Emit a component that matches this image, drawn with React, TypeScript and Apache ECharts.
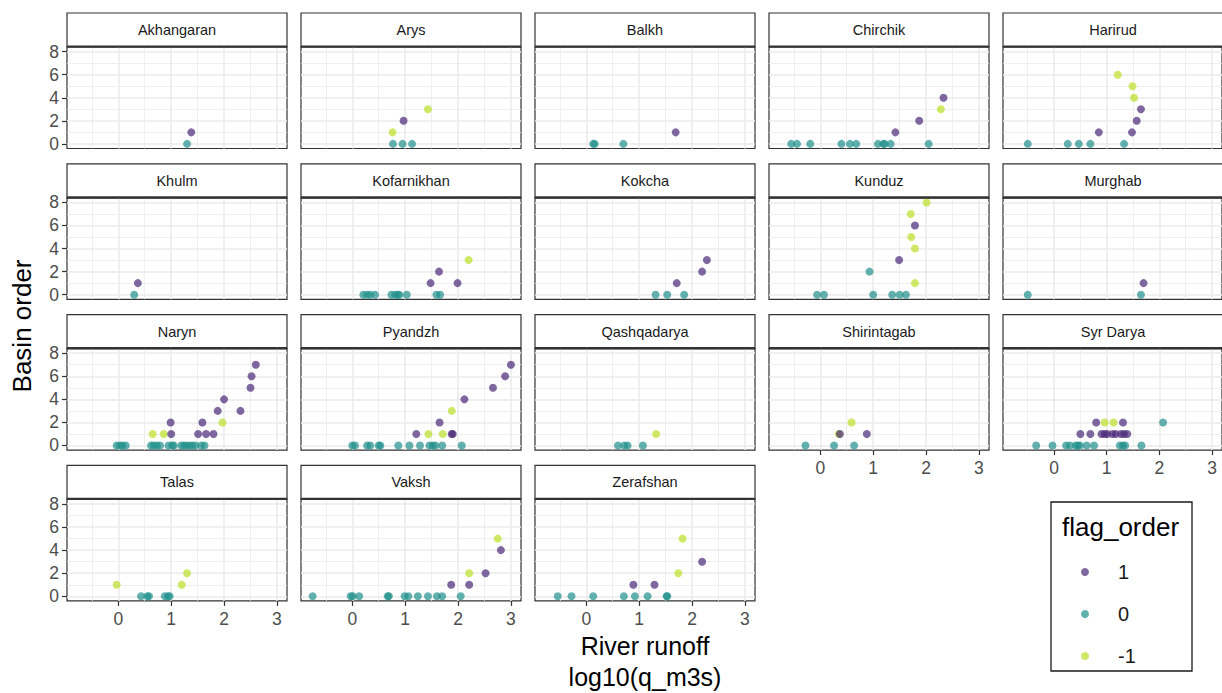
import React, { useEffect, useRef } from "react";
import * as echarts from "echarts";

// ---------- data: [log10(q_m3s), basin order, flag_order] ----------
const basins = [
  "Akhangaran", "Arys", "Balkh", "Chirchik", "Harirud",
  "Khulm", "Kofarnikhan", "Kokcha", "Kunduz", "Murghab",
  "Naryn", "Pyandzh", "Qashqadarya", "Shirintagab", "Syr Darya",
  "Talas", "Vaksh", "Zerafshan",
];

const akhangaran = [[1.38, 1, 1], [1.30, 0, 0]];
const arys = [[0.76, 1, -1], [0.97, 2, 1], [1.43, 3, -1], [0.77, 0, 0], [0.95, 0, 0], [1.13, 0, 0]];
const balkh = [[0.13, 0, 0], [0.16, 0, 0], [0.70, 0, 0], [1.69, 1, 1]];
const chirchik = [
  [-0.55, 0, 0], [-0.44, 0, 0], [-0.19, 0, 0], [0.40, 0, 0], [0.56, 0, 0], [0.68, 0, 0],
  [1.09, 0, 0], [1.19, 0, 0], [1.22, 0, 0], [1.33, 0, 0], [2.05, 0, 0],
  [1.42, 1, 1], [1.87, 2, 1], [2.33, 4, 1], [2.28, 3, -1],
];
const harirud = [
  [-0.50, 0, 0], [0.26, 0, 0], [0.47, 0, 0], [0.69, 0, 0], [1.33, 0, 0],
  [0.85, 1, 1], [1.48, 1, 1], [1.57, 2, 1], [1.65, 3, 1],
  [1.52, 4, -1], [1.49, 5, -1], [1.21, 6, -1],
];
const khulm = [[0.30, 0, 0], [0.37, 1, 1]];
const kofarnikhan = [
  [0.21, 0, 0], [0.28, 0, 0], [0.34, 0, 0], [0.43, 0, 0], [0.74, 0, 0], [0.81, 0, 0],
  [0.86, 0, 0], [0.89, 0, 0], [1.03, 0, 0], [1.59, 0, 0], [1.66, 0, 0],
  [1.48, 1, 1], [1.64, 2, 1], [1.99, 1, 1], [2.20, 3, -1],
];
const kokcha = [[1.31, 0, 0], [1.53, 0, 0], [1.85, 0, 0], [1.71, 1, 1], [2.19, 2, 1], [2.28, 3, 1]];
const kunduz = [
  [-0.06, 0, 0], [0.07, 0, 0], [1.0, 0, 0], [1.36, 0, 0], [1.50, 0, 0], [1.62, 0, 0], [0.93, 2, 0],
  [1.49, 3, 1], [1.79, 6, 1],
  [1.79, 1, -1], [1.79, 4, -1], [1.72, 5, -1], [1.71, 7, -1], [2.01, 8, -1],
];
const murghab = [[-0.50, 0, 0], [1.65, 0, 0], [1.70, 1, 1]];
const naryn = [
  [-0.03, 0, 0], [0.03, 0, 0], [0.08, 0, 0], [0.14, 0, 0], [0.62, 0, 0], [0.67, 0, 0],
  [0.73, 0, 0], [0.79, 0, 0], [0.95, 0, 0], [1.02, 0, 0], [1.05, 0, 0], [1.19, 0, 0],
  [1.24, 0, 0], [1.29, 0, 0], [1.35, 0, 0], [1.40, 0, 0], [1.46, 0, 0], [1.57, 0, 0], [1.63, 0, 0],
  [0.65, 1, -1], [0.86, 1, -1], [1.97, 2, -1],
  [1.0, 1, 1], [1.51, 1, 1], [1.66, 1, 1], [1.80, 1, 1], [0.99, 2, 1], [1.59, 2, 1],
  [1.88, 3, 1], [2.31, 3, 1], [2.0, 4, 1], [2.50, 5, 1], [2.52, 6, 1], [2.60, 7, 1],
];
const pyandzh = [
  [0.0, 0, 0], [0.05, 0, 0], [0.28, 0, 0], [0.34, 0, 0], [0.50, 0, 0], [0.53, 0, 0], [0.87, 0, 0],
  [1.08, 0, 0], [1.28, 0, 0], [1.46, 0, 0], [1.52, 0, 0], [1.57, 0, 0], [1.70, 0, 0], [2.07, 0, 0],
  [1.21, 1, 1], [1.88, 1, 1], [1.90, 1, 1], [1.65, 2, 1], [2.12, 4, 1], [2.66, 5, 1], [2.89, 6, 1], [3.0, 7, 1],
  [1.44, 1, -1], [1.71, 1, -1], [1.88, 3, -1],
];
const qashqadarya = [[0.60, 0, 0], [0.72, 0, 0], [0.78, 0, 0], [1.07, 0, 0], [1.32, 1, -1]];
const shirintagab = [[-0.28, 0, 0], [0.26, 0, 0], [0.64, 0, 0], [0.35, 1, -1], [0.59, 2, -1], [0.37, 1, 1], [0.88, 1, 1]];
const syrDarya = [
  [-0.34, 0, 0], [-0.03, 0, 0], [0.23, 0, 0], [0.30, 0, 0], [0.41, 0, 0], [0.45, 0, 0], [0.49, 0, 0],
  [0.62, 0, 0], [0.76, 0, 0], [1.25, 0, 0], [1.31, 0, 0], [1.35, 0, 0], [1.66, 0, 0], [2.07, 2, 0],
  [0.50, 1, 1], [0.69, 1, 1], [0.90, 1, 1], [0.96, 1, 1], [1.01, 1, 1], [1.11, 1, 1], [1.17, 1, 1],
  [1.27, 1, 1], [1.33, 1, 1], [1.39, 1, 1], [0.80, 2, 1], [1.31, 2, 1],
  [0.96, 2, -1], [1.13, 2, -1],
];
const talas = [
  [-0.03, 1, -1], [1.20, 1, -1], [1.30, 2, -1],
  [0.43, 0, 0], [0.55, 0, 0], [0.58, 0, 0], [0.88, 0, 0], [0.94, 0, 0], [0.97, 0, 0],
];
const vaksh = [
  [-0.75, 0, 0], [-0.03, 0, 0], [0.01, 0, 0], [0.13, 0, 0], [0.67, 0, 0], [0.69, 0, 0], [0.99, 0, 0],
  [1.06, 0, 0], [1.24, 0, 0], [1.43, 0, 0], [1.60, 0, 0], [1.70, 0, 0], [2.05, 0, 0],
  [1.87, 1, 1], [2.21, 1, 1], [2.52, 2, 1], [2.81, 4, 1],
  [2.21, 2, -1], [2.75, 5, -1],
];
const zerafshan = [
  [-0.54, 0, 0], [-0.28, 0, 0], [0.13, 0, 0], [0.71, 0, 0], [0.92, 0, 0], [1.16, 0, 0], [1.52, 0, 0], [1.53, 0, 0],
  [0.89, 1, 1], [1.29, 1, 1], [2.19, 3, 1],
  [1.74, 2, -1], [1.82, 5, -1],
];

const basinPoints = [
  akhangaran, arys, balkh, chirchik, harirud,
  khulm, kofarnikhan, kokcha, kunduz, murghab,
  naryn, pyandzh, qashqadarya, shirintagab, syrDarya,
  talas, vaksh, zerafshan,
];

const flagLevels = [1, 0, -1];
const flagNames = ["1", "0", "-1"];
const flagColors = ["#482878", "#21908C", "#BBDF27"];
const drawOrder = [1, 2, 0]; // teal, yellow, purple on top
const xTicks = [0, 1, 2, 3];
const yTicks = [0, 2, 4, 6, 8];
const xRange = [-0.97, 3.19];
const yRange = [-0.4, 8.4];

// ---------- layout ----------
const FONT = "'Liberation Sans', Arial, Helvetica, sans-serif";
const NCOL = 5;
const COL_LEFT = 67;
const COL_PITCH = 234;
const PANEL_W = 220;
const ROW_TOP = 47;
const ROW_PITCH = 150.8;
const PANEL_H = 101.5;
const STRIP_H = 34;

export default function App() {
  const ref = useRef<HTMLDivElement>(null);

  useEffect(() => {
    if (!ref.current) return;
    const chart = echarts.init(ref.current, undefined, { renderer: "svg" });

    const n = basins.length;
    const lastRowOfCol: number[] = [];
    for (let i = 0; i < n; i++) {
      const c = i % NCOL;
      const r = Math.floor(i / NCOL);
      lastRowOfCol[c] = Math.max(lastRowOfCol[c] ?? 0, r);
    }

    const grids: any[] = [];
    const xAxes: any[] = [];
    const yAxes: any[] = [];
    const series: any[] = [];
    const graphics: any[] = [];

    basins.forEach((name, i) => {
      const c = i % NCOL;
      const r = Math.floor(i / NCOL);
      const left = COL_LEFT + c * COL_PITCH;
      const top = ROW_TOP + r * ROW_PITCH;
      const isBottom = lastRowOfCol[c] === r;
      const isLeft = c === 0;

      grids.push({
        left,
        top,
        width: PANEL_W,
        height: PANEL_H,
        show: true,
        backgroundColor: "#ffffff",
        borderColor: "#333333",
        borderWidth: 1.2,
      });

      xAxes.push({
        gridIndex: i,
        type: "value",
        position: "bottom",
        min: xRange[0],
        max: xRange[1],
        splitNumber: 4,
        axisLine: { show: false, onZero: false },
        axisTick: {
          show: isBottom,
          customValues: xTicks,
          length: 5,
          lineStyle: { color: "#333333", width: 1.2 },
        },
        axisLabel: {
          show: isBottom,
          customValues: xTicks,
          formatter: (v: number) => (Number.isInteger(v) ? String(v) : ""),
          color: "#4d4d4d",
          fontSize: 17.5,
          fontFamily: FONT,
          margin: 9,
        },
        splitLine: { show: true, lineStyle: { color: "#ebebeb", width: 1.6 } },
        minorTick: { show: false, splitNumber: 2 },
        minorSplitLine: { show: true, lineStyle: { color: "#ebebeb", width: 0.8 } },
      });

      yAxes.push({
        gridIndex: i,
        type: "value",
        position: "left",
        min: yRange[0],
        max: yRange[1],
        splitNumber: 4,
        axisLine: { show: false, onZero: false },
        axisTick: {
          show: isLeft,
          customValues: yTicks,
          length: 5,
          lineStyle: { color: "#333333", width: 1.2 },
        },
        axisLabel: {
          show: isLeft,
          customValues: yTicks,
          formatter: (v: number) => (Number.isInteger(v) ? String(v) : ""),
          color: "#4d4d4d",
          fontSize: 17.5,
          fontFamily: FONT,
          margin: 8,
        },
        splitLine: { show: true, lineStyle: { color: "#ebebeb", width: 1.6 } },
        minorTick: { show: false, splitNumber: 2 },
        minorSplitLine: { show: true, lineStyle: { color: "#ebebeb", width: 0.8 } },
      });

      const pts = basinPoints[i];
      drawOrder.forEach((k) => {
        series.push({
          type: "scatter",
          name: flagNames[k],
          xAxisIndex: i,
          yAxisIndex: i,
          symbol: "circle",
          symbolSize: 8,
          itemStyle: { color: flagColors[k], opacity: 0.7 },
          emphasis: { disabled: true },
          data: pts.filter((p) => p[2] === flagLevels[k]).map((p) => [p[0], p[1]]),
        });
      });

      // strip
      graphics.push({
        type: "rect",
        shape: { x: left, y: top - STRIP_H, width: PANEL_W, height: STRIP_H },
        style: { fill: "#ffffff", stroke: "#333333", lineWidth: 1.2 },
        z: 10,
      });
      graphics.push({
        type: "line",
        shape: { x1: left, y1: top - 0.5, x2: left + PANEL_W, y2: top - 0.5 },
        style: { stroke: "#333333", lineWidth: 2.2 },
        z: 11,
      });
      graphics.push({
        type: "text",
        x: left + PANEL_W / 2,
        y: top - STRIP_H / 2,
        style: {
          text: name,
          fill: "#1a1a1a",
          fontSize: 14.5,
          fontFamily: FONT,
          align: "center",
          verticalAlign: "middle",
        },
        z: 12,
      });
    });

    // axis titles
    const plotLeft = COL_LEFT;
    const plotRight = COL_LEFT + (NCOL - 1) * COL_PITCH + PANEL_W;
    const plotBottom = ROW_TOP + 3 * ROW_PITCH + PANEL_H;
    graphics.push({
      type: "text",
      x: (plotLeft + plotRight) / 2,
      y: 646,
      style: { text: "River runoff", fill: "#000000", fontSize: 25, fontFamily: FONT, align: "center", verticalAlign: "middle" },
    });
    graphics.push({
      type: "text",
      x: (plotLeft + plotRight) / 2,
      y: 677,
      style: { text: "log10(q_m3s)", fill: "#000000", fontSize: 25, fontFamily: FONT, align: "center", verticalAlign: "middle" },
    });
    graphics.push({
      type: "text",
      x: 22,
      y: (ROW_TOP + plotBottom) / 2 + 2,
      rotation: Math.PI / 2,
      style: { text: "Basin order", fill: "#000000", fontSize: 26, fontFamily: FONT, align: "center", verticalAlign: "middle" },
    });

    // legend box + title
    graphics.push({
      type: "rect",
      shape: { x: 1051, y: 502, width: 141, height: 169 },
      style: { fill: "#ffffff", stroke: "#1a1a1a", lineWidth: 1.3 },
      z: 0,
    });
    graphics.push({
      type: "text",
      x: 1062,
      y: 527,
      style: { text: "flag_order", fill: "#000000", fontSize: 26, fontFamily: FONT, align: "left", verticalAlign: "middle" },
      z: 5,
    });

    chart.setOption({
      animation: false,
      backgroundColor: "#ffffff",
      grid: grids,
      xAxis: xAxes,
      yAxis: yAxes,
      series,
      legend: {
        data: flagNames,
        orient: "vertical",
        left: 1076,
        top: 557,
        itemWidth: 48,
        itemHeight: 8,
        itemGap: 22,
        icon: "circle",
        selectedMode: false,
        textStyle: { fontSize: 20, color: "#1a1a1a", fontFamily: FONT, padding: [0, 0, 0, 4] },
        z: 20,
      },
      graphic: graphics,
    });

    return () => chart.dispose();
  }, []);

  return (
    <div
      ref={ref}
      style={{ position: "fixed", left: 0, top: 0, width: 1222, height: 693, background: "#fff" }}
    />
  );
}
